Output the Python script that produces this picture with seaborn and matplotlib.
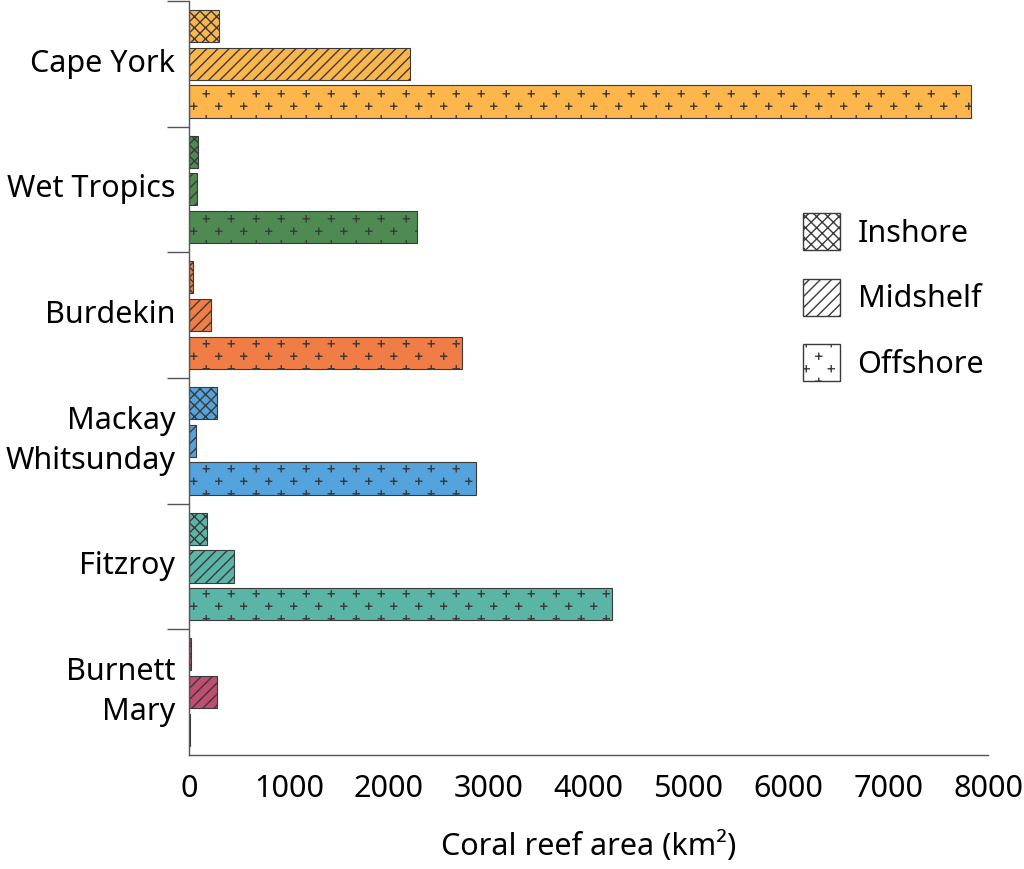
import numpy as np
import pandas as pd
import seaborn as sns
import matplotlib.pyplot as plt
from matplotlib import hatch as mhatch
from matplotlib.path import Path
from matplotlib.patches import Patch
import warnings

warnings.filterwarnings("ignore")

regions = ["Cape York", "Wet Tropics", "Burdekin", "Mackay\nWhitsunday", "Fitzroy", "Burnett\nMary"]
zones = ["Inshore", "Midshelf", "Offshore"]
inshore = [300, 90, 40, 285, 180, 15]
midshelf = [2215, 80, 215, 65, 450, 285]
offshore = [7830, 2280, 2735, 2875, 4235, 6]
region_colors = ["#fdb64c", "#4f8a52", "#f07d45", "#55a3dd", "#5bb5a7", "#bf4f70"]
zone_hatches = ["xxx", "///", "p"]
xticks = [0, 1000, 2000, 3000, 4000, 5000, 6000, 7000, 8000]


class PlusHatch(mhatch.HatchPatternBase):
    """Sparse staggered '+' marks, used for the offshore bars."""

    def __init__(self, hatch, density):
        self.n = hatch.count("p") * 4
        self.rows = self.n * 2
        self.num_vertices = self.n * self.rows * 4

    def set_vertices_and_codes(self, vertices, codes):
        a = 0.03
        k = 0
        for j in range(self.rows):
            y = (j + 0.5) / self.rows
            off = 0.5 if j % 2 else 0.0
            for i in range(self.n):
                x = (i + 0.25 + off) / self.n
                vertices[k:k + 4] = [[x - a, y], [x + a, y], [x, y - a], [x, y + a]]
                codes[k:k + 4] = [Path.MOVETO, Path.LINETO, Path.MOVETO, Path.LINETO]
                k += 4


mhatch._hatch_types.append(PlusHatch)

df = pd.DataFrame({"region": regions, "Inshore": inshore,
                   "Midshelf": midshelf, "Offshore": offshore})
df = df.melt(id_vars="region", var_name="zone", value_name="area")

sns.set_style("white")
plt.rcParams["font.family"] = ["Noto Sans", "DejaVu Sans"]
plt.rcParams["text.color"] = "black"
plt.rcParams["xtick.labelcolor"] = "black"
plt.rcParams["ytick.labelcolor"] = "black"
plt.rcParams["axes.labelcolor"] = "black"
plt.rcParams["hatch.linewidth"] = 1.0
plt.rcParams["hatch.color"] = "#222222"

fs = 22

fig = plt.figure(figsize=(10.24, 8.69), dpi=100)
ax = fig.add_axes([0.1846, 0.1312, 0.7803, 0.8677])

sns.barplot(data=df, y="region", x="area", hue="zone", hue_order=zones,
            order=regions, orient="h", width=0.9, gap=0.15, errorbar=None,
            legend=False, edgecolor="#3a3a3a", linewidth=0.8, ax=ax)

for container, h in zip(ax.containers, zone_hatches):
    for bar, c in zip(container, region_colors):
        bar.set_facecolor(c)
        bar.set_hatch(h)
        bar.set_edgecolor("#3a3a3a")

ax.set_xlim(0, 8000)
ax.set_ylim(len(regions) - 0.5, -0.5)
ax.set_xticks(xticks)
ax.set_xticklabels([str(t) for t in xticks])
ax.set_yticks(np.arange(len(regions)) - 0.5, minor=True)

for s in ["top", "right"]:
    ax.spines[s].set_visible(False)
for s in ["left", "bottom"]:
    ax.spines[s].set_color("#555555")
    ax.spines[s].set_linewidth(1.0)

ax.tick_params(axis="x", length=13, width=1.0, color="#555555", labelsize=fs, pad=1)
ax.tick_params(axis="y", which="major", length=0, labelsize=fs, pad=10)
ax.tick_params(axis="y", which="minor", length=16, width=1.0, color="#555555", left=True)
for t in ax.get_yticklabels():
    t.set_linespacing(1.42)
    t.set_verticalalignment("center")
ax.set_ylabel("")
ax.set_xlabel("Coral reef area (km²)", fontsize=fs, labelpad=19)

handles = [Patch(facecolor="white", edgecolor="#3a3a3a", hatch=h, label=z)
           for h, z in zip(zone_hatches, zones)]
fig.legend(handles=handles, loc="center left", bbox_to_anchor=(0.784, 0.658),
           frameon=False, fontsize=fs, handlelength=1.21, handleheight=1.48,
           handletextpad=0.58, labelspacing=0.94, borderpad=0, borderaxespad=0)

fig.savefig("out.png", dpi=100)
